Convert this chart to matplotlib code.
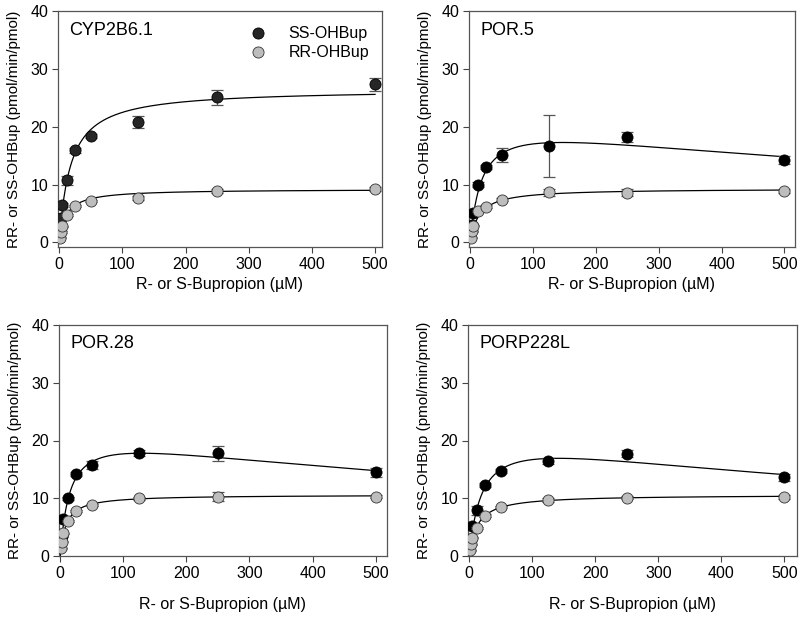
import numpy as np
import matplotlib
matplotlib.use("Agg")
import matplotlib.pyplot as plt

plt.rcParams["font.family"] = ["Liberation Sans", "DejaVu Sans"]

# ---------------- данные ----------------
titles = ["CYP2B6.1", "POR.5", "POR.28", "PORP228L"]
conc = [1, 2.5, 5, 12.5, 25, 50, 125, 250, 500]

ss_x = [2.5, 5, 12.5, 25, 50, 125, 250, 500]
ss_y = [
    [4.2, 6.5, 10.7, 15.9, 18.4, 20.8, 25.1, 27.3],
    [3.0, 5.1, 10.0, 13.0, 15.1, 16.7, 18.2, 14.3],
    [3.5, 6.4, 10.0, 14.2, 15.8, 17.9, 17.8, 14.5],
    [3.0, 5.2, 7.9, 12.3, 14.7, 16.5, 17.7, 13.6],
]
ss_err = [
    [0.3, 0.3, 0.8, 0.4, 0.4, 1.0, 1.3, 1.2],
    [0.2, 0.3, 0.4, 0.3, 1.2, 5.4, 0.9, 0.7],
    [0.2, 0.3, 0.3, 0.3, 0.7, 0.5, 1.3, 0.8],
    [0.2, 0.3, 0.8, 0.3, 0.3, 0.5, 0.6, 0.6],
]
rr_y = [
    [0.8, 1.8, 2.8, 4.7, 6.3, 7.2, 7.7, 8.9, 9.2],
    [0.8, 1.9, 2.9, 5.4, 6.2, 7.4, 8.7, 8.6, 8.9],
    [1.3, 2.5, 3.9, 6.1, 7.8, 8.8, 10.0, 10.3, 10.3],
    [1.0, 2.0, 3.2, 4.9, 7.0, 8.5, 9.7, 10.1, 10.2],
]
rr_err = [
    [0.1, 0.1, 0.1, 0.2, 0.2, 0.2, 0.3, 0.3, 0.3],
    [0.1, 0.1, 0.1, 0.2, 0.2, 0.2, 0.6, 0.6, 0.3],
    [0.1, 0.1, 0.1, 0.2, 0.2, 0.2, 0.3, 0.8, 0.3],
    [0.1, 0.1, 0.1, 0.2, 0.2, 0.2, 0.3, 0.3, 0.3],
]

# параметры подгонки: (Vmax, Km, Ki) ; Ki=None -> Михаэлис-Ментен
ss_fit = [(26.5, 17.9, None), (21.5, 18, 1200), (21.95, 15, 1100), (21.7, 20, 1000)]
rr_fit = [(9.2, 11, None), (9.3, 14, None), (10.6, 9, None), (10.6, 13, None)]

# раскладка панелей в пикселях: left, right, top, bottom, xmax, ymin, xlabel pad
W, H = 799, 617
boxes = [
    (58, 382, 11, 247, 511, -0.8, 4),
    (469, 795, 11, 247, 517, -0.8, 4),
    (59, 387, 325, 556, 518, 0, 12),
    (468, 797, 325, 556, 520, 0, 12),
]


def model(s, vmax, km, ki):
    if ki is None:
        return vmax * s / (km + s)
    return vmax * s / (km + s + s ** 2 / ki)


fig = plt.figure(figsize=(W / 100, H / 100), dpi=100)
s_line = np.linspace(0, 500, 800)
black_cols = ["#262626", "black", "black", "black"]

for i in range(4):
    l, r, t, b, xmax, ymin, xpad = boxes[i]
    ax = fig.add_axes([l / W, 1 - b / H, (r - l) / W, (b - t) / H])

    ax.plot(s_line, model(s_line, *ss_fit[i]), color="black", lw=0.9, zorder=2)
    ax.plot(s_line, model(s_line, *rr_fit[i]), color="black", lw=0.9, zorder=2)

    ax.errorbar(ss_x, ss_y[i], yerr=ss_err[i], fmt="none", ecolor="#555555",
                elinewidth=0.9, capsize=4, capthick=0.9, zorder=3)
    ax.plot(ss_x, ss_y[i], "o", ms=8, mfc=black_cols[i], mec="black", mew=0.6,
            zorder=4, label="SS-OHBup")
    ax.errorbar(conc, rr_y[i], yerr=rr_err[i], fmt="none", ecolor="#555555",
                elinewidth=0.9, capsize=4, capthick=0.9, zorder=5)
    ax.plot(conc, rr_y[i], "o", ms=8, mfc="#bdbdbd", mec="#333333", mew=0.6,
            zorder=6, label="RR-OHBup")

    ax.set_xlim(-2, xmax)
    ax.set_ylim(ymin, 40)
    ax.set_xticks([0, 100, 200, 300, 400, 500])
    ax.set_yticks([0, 10, 20, 30, 40])
    ax.tick_params(direction="out", length=4, width=0.8, colors="#444444",
                   labelcolor="black", labelsize=11.5, pad=3)
    for sp in ax.spines.values():
        sp.set_color("#555555")
        sp.set_linewidth(0.9)

    ax.text(0.035, 0.955, titles[i], transform=ax.transAxes, fontsize=13,
            ha="left", va="top")
    ax.set_xlabel("R- or S-Bupropion (µM)", fontsize=11.5, labelpad=xpad)
    ax.set_ylabel("RR- or SS-OHBup (pmol/min/pmol)", fontsize=11, labelpad=7)

    if i == 0:
        ax.legend(loc="upper right", frameon=False, fontsize=11.5,
                  handletextpad=0.9, borderaxespad=0.2, labelspacing=0.25,
                  bbox_to_anchor=(0.99, 0.975))

fig.savefig("out.png", dpi=100)
